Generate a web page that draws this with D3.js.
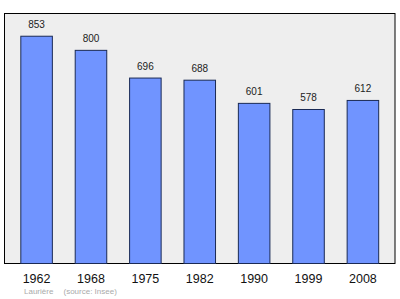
<!DOCTYPE html>
<html>
<head>
<meta charset="utf-8">
<script src="https://cdn.jsdelivr.net/npm/d3@7"></script>
<style>
  body { margin: 0; background: #fff; }
  text { font-family: "Liberation Sans", Arial, sans-serif; }
</style>
</head>
<body>
<div id="plot"></div>
<script>
const years = ['1962', '1968', '1975', '1982', '1990', '1999', '2008'];
const population = [853, 800, 696, 688, 601, 578, 612];
const commune = 'Laurière';
const source = '(source: Insee)';

const width = 400;
const height = 299;
const frame = {l: 4.5, t: 13.5, r: 395, b: 263.5};

const svg = d3.select('#plot')
    .append('svg')
    .attr('width', width)
    .attr('height', height);

// plot frame
svg.append('rect')
    .attr('x', frame.l)
    .attr('y', frame.t)
    .attr('width', frame.r - frame.l)
    .attr('height', frame.b - frame.t)
    .attr('fill', '#eeeeee')
    .attr('stroke', '#000')
    .attr('stroke-width', 1);

const x = d3.scaleBand()
    .domain(years)
    .range([frame.l, frame.r])
    .paddingInner(0.42)
    .paddingOuter(0.3);

const y = d3.scaleLinear()
    .domain([0, d3.max(population) * 1.1])
    .range([frame.b, frame.t]);

const data = years.map((yr, i) => ({year: yr, value: population[i]}));

svg.append('g')
    .selectAll('rect')
    .data(data)
    .enter()
    .append('rect')
    .attr('x', d => x(d.year))
    .attr('y', d => y(d.value))
    .attr('width', x.bandwidth())
    .attr('height', d => y(0) - y(d.value))
    .attr('fill', '#7094ff')
    .attr('stroke', '#1a2a55')
    .attr('stroke-width', 1);

// value labels
svg.append('g')
    .selectAll('text')
    .data(data)
    .enter()
    .append('text')
    .attr('x', d => x(d.year) + x.bandwidth() / 2)
    .attr('y', d => y(d.value) - 8.5)
    .attr('text-anchor', 'middle')
    .attr('font-size', '10px')
    .attr('fill', '#222')
    .text(d => d.value);

// year labels
svg.append('g')
    .selectAll('text')
    .data(data)
    .enter()
    .append('text')
    .attr('x', d => x(d.year) + x.bandwidth() / 2)
    .attr('y', 282.5)
    .attr('text-anchor', 'middle')
    .attr('font-size', '12.5px')
    .attr('fill', '#111')
    .text(d => d.year);

svg.append('text')
    .attr('x', 24)
    .attr('y', 294)
    .attr('font-size', '8px')
    .attr('fill', '#aaa')
    .text(commune);

svg.append('text')
    .attr('x', 63.5)
    .attr('y', 294)
    .attr('font-size', '8px')
    .attr('fill', '#aaa')
    .text(source);
</script>
</body>
</html>
